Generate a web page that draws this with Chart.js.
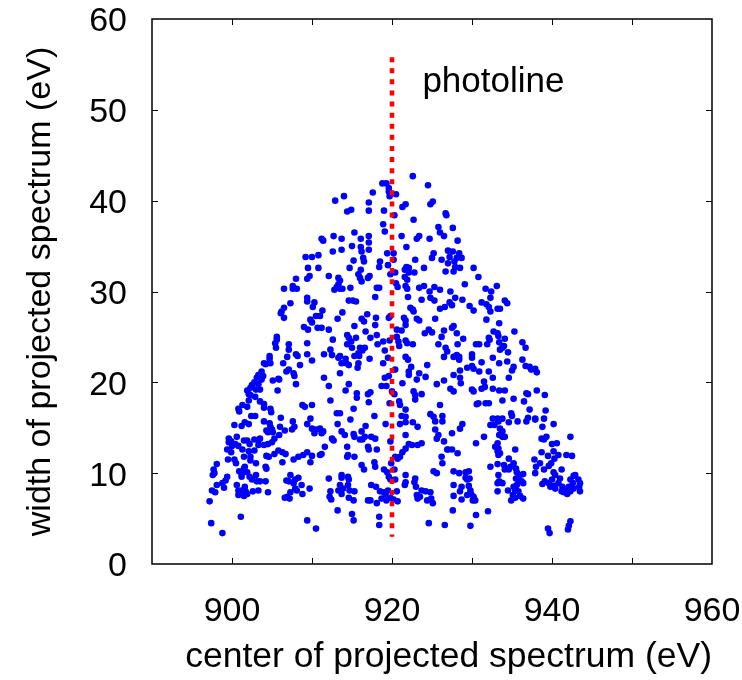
<!DOCTYPE html>
<html><head><meta charset="utf-8">
<script src="https://cdn.jsdelivr.net/npm/chart.js@4/dist/chart.umd.min.js"></script>
<style>html,body{margin:0;padding:0;background:#fff;}#wrap{width:742px;height:680px;}</style>
</head><body><div id="wrap"><canvas id="c" width="742" height="680"></canvas></div>
<script>
// ---- data ----
const xTickLabels = [900, 920, 940, 960];
const xTickMarks = [900, 910, 920, 930, 940, 950];
const yTickLabels = [0, 10, 20, 30, 40, 50, 60];
const yTickMarks = [10, 20, 30, 40, 50];
const photolineX = [920, 920];
const photolineY = [55.8, 3];
const photolineLabel = 'photoline';
const photolineLabelAt = [923.8, 52.0];
const xTitle = 'center of projected spectrum (eV)';
const yTitle = 'width of projected spectrum (eV)';

const topLeft = [[911.2,35.8],[911.4,35.6],[909.2,33.8],[910.0,33.8],[910.8,34.0],[909.5,32.6],[910.8,32.6],[909.7,31.7],[909.4,31.4],[908.0,31.4],[906.5,30.3],[907.6,30.6],[907.6,30.3],[908.1,30.3]];
const topMid = [[922.6,42.7],[918.8,41.9],[919.3,41.9],[919.6,41.4],[919.6,41.0],[919.7,40.5],[920.5,40.7],[924.5,41.7],[917.6,40.9],[914.0,40.5],[912.9,40.0],[917.1,39.8],[917.1,38.9],[914.4,38.8],[914.9,39.0],[919.0,38.9],[921.7,39.6],[921.3,39.3],[925.1,39.9],[924.8,39.6],[920.3,38.4],[922.7,37.9],[926.7,38.6],[926.8,38.4],[925.8,37.1],[926.5,36.1],[926.0,36.5],[927.6,37.0],[918.9,37.4],[919.1,36.6],[912.7,36.1],[913.7,35.8],[915.3,36.5],[916.1,35.8],[917.1,36.1],[917.1,35.4],[921.2,36.1],[923.4,36.1],[923.1,35.8],[924.7,35.8],[912.6,34.4],[913.7,34.6],[915.0,35.0],[916.1,34.9],[916.2,34.4],[916.4,33.7],[916.5,33.3],[917.1,34.6],[919.4,34.2],[920.2,34.2],[921.8,34.9],[925.2,34.2],[925.0,33.7],[926.2,33.5],[927.0,34.5],[927.6,34.4],[927.2,33.8],[927.8,33.3],[922.9,33.5],[915.2,33.4],[914.7,32.6],[918.5,33.3],[918.4,32.7],[919.5,32.9],[920.2,33.5],[921.8,32.7],[922.1,32.6],[924.0,32.6],[927.0,33.1],[926.7,32.2],[927.7,32.2],[912.1,31.7],[916.1,32.4],[915.8,31.9],[916.0,31.5],[916.2,31.1],[917.2,31.7],[917.0,31.5],[913.3,31.5],[913.5,31.2],[913.3,30.8],[913.1,30.5],[912.8,30.2],[913.5,30.3],[913.8,30.3],[914.8,30.4],[919.8,31.9],[920.4,32.1],[920.5,30.9],[920.7,30.5],[921.6,32.4],[922.1,32.1],[921.6,31.6],[921.9,31.3],[922.8,32.1],[921.7,30.6],[921.9,30.3],[923.4,30.4],[924.0,30.6],[925.3,30.5],[926.0,30.2],[918.1,30.4],[918.4,30.4],[924.7,30.0],[927.3,30.0]];
const topRight = [[928.2,35.6],[928.4,34.2],[928.1,33.7],[928.7,33.7],[927.9,32.7],[928.5,32.6],[930.2,32.6],[930.8,31.6],[929.1,30.8],[931.7,30.3],[932.4,30.0],[933.1,30.6]];
const midLeft = [[907.3,28.7],[909.4,29.3],[909.4,28.9],[910.3,28.8],[910.1,28.3],[911.3,27.9],[906.5,28.2],[906.2,27.8],[906.1,27.6],[906.5,27.1],[910.5,27.3],[911.0,27.3],[909.8,26.9],[910.0,26.6],[909.0,26.1],[909.5,25.8],[910.7,26.0],[911.2,26.0],[905.6,25.0],[905.6,24.7],[905.4,24.3],[905.5,23.8],[907.1,24.2],[907.1,23.6],[909.4,24.3],[911.5,23.1],[904.7,22.9],[904.7,22.6],[904.0,22.1],[904.8,22.1],[904.2,22.0],[906.9,22.8],[908.0,23.1],[908.2,22.9],[909.4,23.1],[910.0,22.4],[908.5,21.9],[906.4,22.1],[906.8,21.2],[907.1,21.4],[903.7,21.2],[903.3,20.8],[903.1,20.5],[903.9,20.7],[903.7,20.3],[907.7,21.0],[907.8,20.7],[908.0,19.8],[905.1,20.2],[905.8,20.4],[905.9,20.3],[902.8,20.0],[902.5,19.7],[903.3,19.8],[902.3,19.4],[903.0,19.2],[903.5,19.2],[901.9,19.1],[902.1,18.7],[902.3,18.6],[905.7,19.1],[902.9,18.4],[902.1,18.0],[903.5,17.9],[904.0,17.6],[904.0,17.2],[901.3,17.5],[900.8,17.1],[900.9,16.8],[901.9,17.3],[904.8,17.1],[904.9,16.7],[908.8,17.5],[909.1,17.3],[910.0,17.5],[902.4,16.3],[902.9,16.3],[906.1,16.1],[909.8,16.0],[911.5,20.5]];
const midMid = [[914.6,29.0],[915.1,29.0],[915.5,28.9],[917.9,29.4],[922.0,29.4],[923.7,29.1],[924.8,29.3],[925.3,29.0],[926.0,28.1],[926.6,28.3],[927.2,28.8],[927.5,28.5],[922.3,28.2],[922.6,28.0],[922.7,27.8],[913.8,27.7],[916.9,27.5],[919.8,27.3],[919.6,27.1],[921.5,27.1],[921.7,26.8],[921.7,26.3],[923.1,27.0],[923.4,26.8],[916.2,27.0],[916.5,26.7],[918.0,27.1],[925.4,27.0],[913.2,27.0],[917.9,26.3],[915.3,26.2],[927.7,26.2],[927.5,26.0],[912.1,25.8],[916.7,25.6],[920.6,25.8],[921.2,25.7],[924.1,25.4],[924.6,25.8],[925.0,25.5],[926.5,25.7],[926.2,25.0],[914.4,25.2],[914.6,24.9],[914.9,24.5],[915.5,24.9],[914.4,24.2],[912.6,24.7],[917.3,24.9],[918.1,25.2],[918.9,24.5],[919.7,24.6],[920.6,25.0],[920.8,24.5],[920.9,24.0],[921.7,24.6],[921.9,24.3],[918.2,24.2],[922.6,24.2],[925.8,24.2],[916.0,23.8],[916.3,23.5],[916.6,23.8],[915.8,23.2],[912.3,23.6],[912.5,23.0],[915.0,23.8],[919.1,23.5],[926.7,23.8],[926.9,23.4],[926.5,22.8],[927.7,22.8],[913.5,22.9],[913.3,22.7],[914.2,22.6],[913.7,22.1],[914.3,22.1],[915.3,22.9],[915.9,22.9],[917.2,22.6],[919.5,22.7],[921.7,22.8],[922.0,22.5],[915.8,22.1],[915.7,21.6],[914.6,21.9],[918.9,22.1],[922.4,21.7],[924.4,21.9],[913.5,21.0],[920.4,21.4],[922.1,21.2],[922.1,20.8],[923.4,21.0],[919.6,20.7],[919.1,20.5],[923.1,20.3],[924.2,20.6],[926.5,20.2],[927.7,20.8],[912.1,19.6],[914.6,19.8],[918.7,19.6],[919.3,19.6],[921.3,19.9],[925.6,19.8],[927.3,19.3],[927.7,19.0],[914.2,19.1],[915.6,18.8],[915.6,18.3],[917.0,18.7],[917.3,18.9],[920.0,19.0],[920.3,18.7],[922.7,19.0],[922.9,18.6],[923.7,18.7],[912.3,18.0],[917.1,17.8],[919.7,17.7],[920.9,17.9],[921.0,17.5],[922.9,18.1],[926.0,17.5],[915.2,17.1],[921.7,17.0],[913.1,16.6],[913.5,16.6],[917.8,16.3],[921.2,16.3],[921.7,16.2],[924.8,16.5],[925.2,16.2],[926.3,16.3]];
const midRight = [[927.9,29.3],[928.8,29.1],[929.7,28.4],[930.2,27.9],[931.2,28.8],[931.8,28.6],[932.1,28.3],[932.3,29.3],[932.3,27.8],[933.2,28.1],[933.5,28.1],[934.1,29.0],[934.4,28.7],[931.8,26.9],[933.4,26.5],[928.1,25.4],[928.9,24.8],[928.2,24.2],[932.7,25.6],[933.2,25.4],[933.3,25.1],[932.1,24.9],[932.2,24.7],[934.1,24.8],[935.3,25.6],[930.5,24.2],[930.9,24.2],[931.9,24.2],[933.4,24.4],[933.8,23.8],[934.0,24.0],[933.5,23.6],[934.5,23.3],[936.3,24.4],[936.7,23.8],[928.1,23.0],[928.4,22.8],[928.4,22.5],[930.0,23.1],[930.0,22.7],[932.6,22.7],[931.2,22.2],[933.4,22.1],[934.4,22.3],[936.3,22.5],[935.2,21.7],[935.0,21.3],[936.7,21.8],[937.2,21.7],[937.4,21.4],[937.9,21.5],[938.1,21.1],[929.4,21.6],[930.0,21.8],[930.2,21.5],[930.9,21.2],[928.5,21.3],[932.1,21.2],[934.6,20.5],[928.5,20.5],[928.6,19.9],[932.6,20.5],[931.5,20.1],[931.6,19.5],[931.2,19.3],[930.0,19.2],[930.2,19.0],[932.6,19.3],[933.4,19.1],[934.1,19.1],[936.8,18.8],[937.0,18.7],[938.1,19.1],[939.1,18.6],[935.2,18.2],[936.5,17.9],[933.8,18.0],[930.6,17.6],[930.8,17.7],[931.7,17.7],[932.1,17.7],[937.2,17.0],[939.2,16.9],[934.9,16.6],[935.0,16.3],[932.6,16.0],[933.2,16.0],[933.8,16.0],[937.0,16.1],[937.9,16.0],[939.0,16.0]];
const lowLeft = [[900.3,15.3],[901.2,15.2],[901.6,15.6],[902.1,15.4],[904.0,15.7],[904.7,15.5],[904.8,15.1],[904.3,14.7],[904.5,14.5],[905.0,14.8],[905.1,14.5],[906.0,15.1],[906.6,14.7],[905.9,14.2],[907.6,15.7],[907.8,15.1],[907.5,14.8],[909.4,15.4],[910.0,14.9],[910.5,14.8],[910.3,14.4],[911.0,14.9],[911.2,14.4],[911.4,14.6],[899.6,13.8],[899.9,13.5],[899.6,13.4],[900.6,14.0],[900.4,13.2],[900.8,13.0],[900.0,13.0],[901.5,13.6],[901.9,13.6],[902.2,13.2],[902.8,13.7],[903.3,13.6],[903.5,13.8],[904.0,13.1],[903.3,13.1],[904.5,13.2],[905.0,13.4],[905.3,13.8],[899.4,12.6],[899.9,12.3],[899.5,11.5],[901.3,12.6],[902.1,12.4],[902.8,12.5],[902.3,11.8],[900.3,11.5],[900.5,11.1],[901.5,11.8],[902.3,11.4],[903.0,11.1],[901.6,10.7],[904.3,11.9],[904.6,11.8],[905.3,12.1],[905.8,12.5],[906.3,12.3],[906.7,12.1],[906.3,11.2],[904.2,10.7],[904.3,10.5],[907.7,11.5],[908.3,11.8],[908.9,12.0],[909.4,12.3],[910.0,11.9],[909.8,11.2],[911.2,12.1],[898.1,11.0],[897.7,10.4],[897.8,10.0],[897.6,9.8],[900.9,10.2],[901.2,9.9],[901.2,9.6],[901.5,10.5],[901.9,10.1],[902.2,9.6],[902.5,9.3],[903.0,9.8],[903.1,9.1],[903.5,9.1],[904.2,9.1],[899.4,9.6],[899.2,9.2],[898.8,8.9],[899.0,8.4],[898.1,8.7],[900.6,8.7],[900.8,8.1],[900.8,7.6],[901.2,8.1],[901.6,8.5],[901.7,8.0],[901.9,7.7],[901.5,7.5],[902.6,8.0],[903.3,8.1],[904.5,7.9],[897.5,8.1],[897.9,7.9],[897.2,6.9],[907.3,9.8],[907.1,9.1],[906.8,9.2],[907.9,9.3],[908.3,9.5],[907.7,8.9],[907.9,8.3],[908.1,8.1],[908.7,8.7],[908.8,7.7],[906.9,7.4],[907.2,7.2],[906.6,7.3],[907.3,7.9],[909.7,8.3],[897.4,4.5],[898.8,3.4],[901.1,5.2],[909.4,4.8],[910.5,3.9],[911.0,12.0],[911.6,12.9]];
const lowMid = [[913.2,15.4],[914.8,15.9],[916.7,15.2],[919.2,15.4],[921.0,15.4],[921.7,15.6],[922.6,15.6],[923.2,15.1],[925.4,15.7],[926.3,15.7],[913.7,14.6],[914.1,14.2],[915.2,14.3],[915.3,14.0],[916.2,14.6],[916.6,14.0],[916.3,13.7],[916.0,13.7],[917.4,14.0],[917.9,13.8],[912.5,13.8],[912.7,13.6],[914.4,12.9],[917.0,12.9],[917.1,12.6],[918.1,12.6],[919.8,13.5],[921.7,14.2],[922.1,13.2],[922.5,13.1],[923.2,13.1],[923.7,13.3],[925.4,14.8],[925.8,14.2],[925.6,13.8],[926.5,13.5],[927.0,12.6],[927.5,12.6],[927.5,14.4],[921.7,12.7],[921.3,12.3],[921.0,11.8],[920.7,11.6],[920.4,11.8],[914.4,11.8],[914.5,12.0],[915.3,11.8],[916.2,10.9],[916.5,10.4],[917.8,11.2],[917.9,10.7],[919.9,11.1],[919.0,10.4],[919.4,10.1],[919.6,9.6],[919.8,9.3],[920.4,9.3],[920.3,10.4],[921.7,9.8],[921.7,9.0],[926.2,11.8],[926.3,11.1],[926.9,12.6],[927.7,10.2],[927.7,8.7],[925.2,10.2],[925.6,10.0],[922.9,9.4],[922.8,9.0],[923.0,8.5],[923.7,8.1],[923.1,7.6],[923.5,7.4],[924.2,8.0],[924.8,7.9],[924.9,7.2],[924.4,7.0],[925.1,6.7],[923.2,7.2],[912.1,9.4],[913.7,9.8],[913.7,9.5],[914.5,9.6],[914.6,9.3],[913.5,8.7],[913.9,8.3],[913.3,8.1],[913.7,7.7],[914.5,8.7],[914.7,8.1],[915.3,8.0],[914.6,7.3],[915.2,7.0],[912.3,8.0],[912.2,7.4],[912.4,7.1],[917.4,8.7],[918.0,8.5],[918.5,8.0],[919.0,7.9],[919.5,8.1],[918.7,7.2],[919.3,7.0],[919.8,7.3],[920.6,8.0],[920.7,6.9],[920.2,7.1],[919.2,7.7],[917.0,7.0],[917.3,7.0],[918.1,6.7],[913.2,5.9],[915.0,5.5],[915.2,4.8],[918.4,5.2],[918.4,4.3],[924.6,4.5],[926.6,4.3],[927.6,5.9],[927.7,7.5],[921.6,8.7]];
const lowRight = [[928.5,14.9],[928.8,15.4],[932.3,15.3],[932.8,15.3],[933.3,15.7],[934.6,15.6],[935.7,15.7],[936.8,15.7],[937.9,15.9],[933.5,14.9],[933.8,14.6],[933.4,14.2],[933.8,14.0],[934.1,14.0],[938.8,15.1],[940.2,15.4],[931.5,14.0],[930.5,13.3],[933.2,13.3],[932.9,12.9],[933.3,12.7],[933.2,12.4],[933.5,12.2],[933.3,12.0],[935.4,12.6],[938.7,13.8],[939.0,13.7],[939.3,14.0],[940.0,13.2],[940.6,13.3],[942.3,14.0],[928.2,12.2],[938.7,12.3],[939.5,11.9],[940.2,12.4],[940.3,11.6],[940.8,12.0],[941.8,12.0],[937.8,11.5],[938.0,10.7],[937.9,10.0],[938.5,11.1],[939.0,10.4],[939.6,10.8],[939.9,11.1],[942.5,11.9],[932.3,10.7],[933.2,11.0],[934.0,10.9],[934.6,11.6],[934.8,10.7],[935.2,11.1],[935.5,10.5],[934.6,10.4],[934.1,10.4],[933.3,9.8],[933.4,9.1],[933.2,8.9],[933.8,8.9],[933.2,8.0],[934.5,8.1],[935.6,10.1],[936.0,9.8],[936.4,9.9],[935.5,9.4],[935.8,9.3],[936.2,9.1],[936.4,8.9],[935.6,8.7],[935.2,8.5],[935.4,8.1],[935.8,8.0],[935.1,7.6],[936.0,7.5],[936.4,7.2],[935.4,7.3],[934.9,7.0],[928.4,10.0],[929.2,10.1],[929.6,10.2],[929.4,9.3],[929.2,9.5],[929.7,9.4],[928.7,8.5],[929.6,8.6],[929.8,8.1],[928.5,8.0],[929.9,7.7],[929.4,7.6],[930.2,7.4],[928.7,7.1],[930.4,7.0],[930.1,7.0],[939.1,9.1],[939.6,8.9],[938.8,8.8],[940.0,9.3],[940.2,10.1],[940.4,9.8],[940.3,8.6],[940.4,8.3],[939.8,8.5],[941.0,9.4],[941.2,10.4],[941.3,8.5],[941.2,8.0],[941.7,8.1],[941.5,7.9],[942.1,8.5],[942.3,9.3],[942.6,8.9],[942.7,9.7],[942.9,9.8],[942.7,8.3],[942.3,8.0],[941.9,7.7],[943.3,9.3],[943.5,8.9],[943.4,8.5],[943.5,8.0],[940.8,8.9],[930.5,5.4],[932.0,5.8],[929.8,4.2],[939.5,3.9],[939.7,3.4],[942.3,4.7],[942.1,4.2],[942.0,3.8]];

// ---- chart ----
const FONT = '"Liberation Sans", Arial, Helvetica, sans-serif';
const allPoints = [].concat(topLeft, topMid, topRight, midLeft, midMid, midRight, lowLeft, lowMid, lowRight)
  .map(p => ({x: p[0], y: p[1]}));
const photoline = photolineX.map((x, i) => ({x: x, y: photolineY[i]}));

const framePlugin = {
  id: 'frame',
  afterDatasetsDraw(chart) {
    const {ctx, chartArea: a, scales: {x, y}} = chart;
    ctx.save();
    ctx.strokeStyle = '#000';
    ctx.lineWidth = 1;
    const T = 6;
    ctx.beginPath();
    xTickMarks.forEach(v => {
      const px = Math.round(x.getPixelForValue(v)) + 0.5;
      ctx.moveTo(px, a.bottom); ctx.lineTo(px, a.bottom - T);
      ctx.moveTo(px, a.top); ctx.lineTo(px, a.top + T);
    });
    yTickMarks.forEach(v => {
      const py = Math.round(y.getPixelForValue(v)) + 0.5;
      ctx.moveTo(a.left, py); ctx.lineTo(a.left + T, py);
      ctx.moveTo(a.right, py); ctx.lineTo(a.right - T, py);
    });
    ctx.stroke();
    ctx.lineWidth = 1.5;
    ctx.strokeRect(a.left, a.top, a.right - a.left, a.bottom - a.top);
    ctx.fillStyle = '#000';
    ctx.font = '35px ' + FONT;
    ctx.textAlign = 'left';
    ctx.textBaseline = 'alphabetic';
    ctx.fillText(photolineLabel, x.getPixelForValue(photolineLabelAt[0]), y.getPixelForValue(photolineLabelAt[1]));
    ctx.restore();
  }
};

function noMargins(s) {
  s.paddingLeft = 0; s.paddingRight = 0; s.paddingTop = 0; s.paddingBottom = 0;
}

new Chart(document.getElementById('c'), {
  data: {
    datasets: [
      {
        type: 'line',
        data: photoline,
        borderColor: '#ff0000',
        borderWidth: 4.6,
        borderDash: [5, 6.1],
        borderCapStyle: 'butt',
        pointRadius: 0,
        fill: false
      },
      {
        type: 'scatter',
        data: allPoints,
        backgroundColor: '#0000ff',
        borderWidth: 0,
        pointRadius: 3.3,
        pointHoverRadius: 3.3
      }
    ]
  },
  options: {
    responsive: false,
    animation: false,
    devicePixelRatio: 1,
    layout: {padding: {top: 19, right: 30, left: 0, bottom: 0}},
    plugins: {legend: {display: false}, tooltip: {enabled: false}},
    events: [],
    scales: {
      x: {
        type: 'linear', min: 890, max: 960,
        afterBuildTicks: s => { s.ticks = xTickLabels.map(v => ({value: v})); },
        afterFit: s => { s.height = 116; noMargins(s); },
        grid: {display: false, drawTicks: false},
        border: {display: false},
        ticks: {padding: 27, color: '#000', font: {family: FONT, size: 34}, maxRotation: 0, autoSkip: false},
        title: {display: true, text: xTitle, align: 'end', color: '#000', font: {family: FONT, size: 35.5}, padding: {top: 0, bottom: 1}}
      },
      y: {
        type: 'linear', min: 0, max: 60,
        afterBuildTicks: s => { s.ticks = yTickLabels.map(v => ({value: v})); },
        afterFit: s => { s.width = 152; noMargins(s); },
        grid: {display: false, drawTicks: false},
        border: {display: false},
        ticks: {padding: 25, labelOffset: 3, color: '#000', font: {family: FONT, size: 34}, autoSkip: false},
        title: {display: true, text: yTitle, color: '#000', font: {family: FONT, size: 34}, padding: {top: 20, bottom: 0}}
      }
    }
  },
  plugins: [framePlugin]
});
</script>
</body></html>
